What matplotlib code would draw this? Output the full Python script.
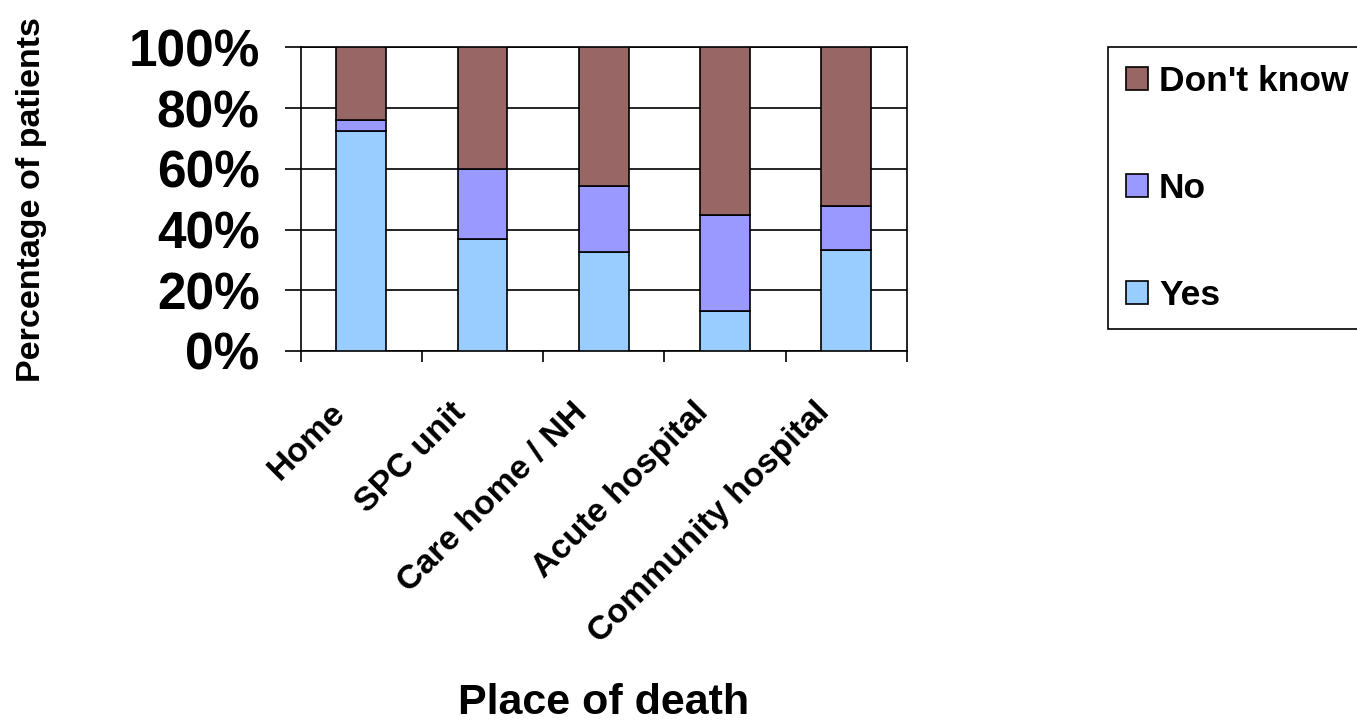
import numpy as np
import matplotlib
matplotlib.use("Agg")
import matplotlib.pyplot as plt
from matplotlib.transforms import ScaledTranslation

plt.rcParams['font.family'] = ['Liberation Sans', 'DejaVu Sans']
plt.rcParams['font.weight'] = 'bold'

places = ['Home', 'SPC unit', 'Care home / NH', 'Acute hospital', 'Community hospital']
yes = [72.5, 36.8, 32.7, 13.2, 33.3]
no = [3.7, 23.1, 21.7, 31.6, 14.5]
dont_know = [23.8, 40.1, 45.6, 55.2, 52.2]
series_names = ['Yes', 'No', "Don't know"]
colors = ['#99CCFF', '#9999FF', '#996666']

fig = plt.figure(figsize=(13.57, 7.21), dpi=100)
ax = fig.add_axes([0.2216, 0.5132, 0.4466, 0.4212])

x = np.arange(len(places))
bottom = np.zeros(len(places))
handles = []
for vals, name, col in zip([yes, no, dont_know], series_names, colors):
    b = ax.bar(x, vals, width=0.41, bottom=bottom, color=col,
               edgecolor='black', linewidth=1.2, label=name, zorder=3)
    handles.append(b)
    bottom += np.array(vals)

ax.set_xlim(-0.5, len(places) - 0.5)
ax.set_ylim(0, 100)
ax.set_yticks(np.arange(0, 101, 20))
ax.set_yticklabels([f'{v}%' for v in range(0, 101, 20)], fontsize=37, fontweight='bold')
ax.yaxis.grid(True, color='black', linewidth=1.2, zorder=0)
ax.tick_params(axis='y', length=11.5, width=1.2, pad=18, direction='out')

ax.set_xticks(x)
ax.set_xticklabels(places, fontsize=24.5, fontweight='bold', rotation=45,
                   ha='right', va='top', rotation_mode='anchor')
ax.set_xticks(np.arange(-0.5, len(places)), minor=True)
ax.tick_params(axis='x', which='major', length=0, pad=33)
ax.tick_params(axis='x', which='minor', length=8, width=1.2, direction='out')
shift = ScaledTranslation(-32 / 100, 0, fig.dpi_scale_trans)
for lab in ax.get_xticklabels():
    lab.set_transform(lab.get_transform() + shift)

for s in ax.spines.values():
    s.set_color('black')
    s.set_linewidth(1.2)

ax.set_ylabel('Percentage of patients', fontsize=24.5, fontweight='bold')
ax.yaxis.set_label_coords(-0.418, 0.5)
ax.set_xlabel('Place of death', fontsize=31, fontweight='bold')
ax.xaxis.set_label_coords(0.5, -1.093)

leg = fig.legend(handles[::-1], series_names[::-1], loc='upper left',
                 bbox_to_anchor=(1108 / 1357, 1 - 47 / 721),
                 prop={'weight': 'bold', 'size': 25.5},
                 frameon=True, fancybox=False, edgecolor='black', framealpha=1,
                 handlelength=0.63, handleheight=0.63, handletextpad=0.31,
                 labelspacing=2.09, borderpad=0.5, borderaxespad=0)
leg.get_frame().set_linewidth(1.2)

fig.savefig('out.png', dpi=100, facecolor='white')
